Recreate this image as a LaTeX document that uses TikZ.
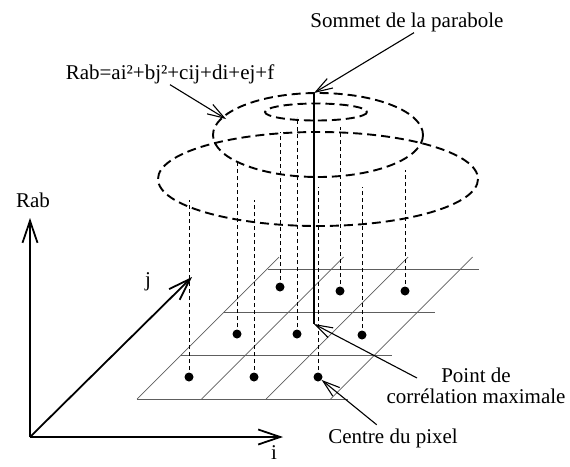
\documentclass[tikz,border=0pt]{standalone}
\usepackage{fontspec}
\setmainfont{Liberation Serif}
\usepackage{tikz}
\usetikzlibrary{positioning,arrows.meta,calc}
\definecolor{gridgray}{HTML}{5E5E5E}
\tikzset{
  lbl/.style={font=\fontsize{21}{21}\selectfont,inner sep=1pt,align=center},
  ax/.style={-{Straight Barb[length=22pt,width=15pt]},line width=1.8pt},
  fl/.style={-{Straight Barb[length=17pt,width=11pt]},line width=1.1pt},
  surf/.style={line width=1.9pt,dash pattern=on 9pt off 5pt},
  proj/.style={line width=0.6pt,dash pattern=on 4pt off 3pt},
  grd/.style={line width=0.7pt,draw=gridgray},
  dot/.style={circle,fill=black,inner sep=0pt,minimum size=9pt},
}
\begin{document}
\begin{tikzpicture}[x=1pt,y=-1pt]
  \useasboundingbox (0,0) rectangle (570,466);
  \draw[surf] (318,179) ellipse [x radius=160,y radius=47];
  \draw[surf] (318,135) ellipse [x radius=105,y radius=42];
  \draw[surf] (316,112) ellipse [x radius=51,y radius=8.5];
  \foreach \k in {0,1,2,3}{
    \draw[grd] (137+43.5*\k,399-43.3*\k) -- ++(211,0);
    \draw[grd] (137+64.5*\k,399) -- ++(142,-142);
  }
  \foreach \n/\x/\y/\t in {11/189/377/200,12/254/377/200,13/318/377/187,
      21/237/334/163,22/297/334/117,23/362/335/187,
      31/280/287/132,32/340/291/127,33/405/291/170}{
    \node[dot] (d\n) at (\x,\y) {};
    \coordinate (t\n) at (\x,\t);
    \draw[proj] (d\n.center) -- (t\n);
  }
  \coordinate (top) at (314,93);
  \coordinate (pmax) at (314,324);
  \draw[line width=1.9pt] (top) -- (pmax);
  \coordinate (O) at (30,437);
  \coordinate (Rtip) at (30,218);
  \coordinate (itip) at (283,437);
  \coordinate (jtip) at (192,277);
  \draw[ax] (O) -- (Rtip);
  \draw[ax] (O) -- (itip);
  \draw[ax] (O) -- (jtip);
  \node[lbl] (Rab) at (33,200) {Rab};
  \node[lbl] (ilab) at (274,453) {i};
  \node[lbl] (jlab) at (148,282) {j};
  \node[lbl,anchor=base] (sommet) at (407,27) {Sommet de la parabole};
  \node[lbl,anchor=base] (eq) at (170,79) {Rab=ai²+bj²+cij+di+ej+f};
  \node[lbl] (pt) at (476,386) {Point de\\corrélation maximale};
  \node[lbl] (cp) at (393,438) {Centre du pixel};
  \coordinate (e2) at (226,119);
  \coordinate (ptarr) at (417,378);
  \draw[fl] ([xshift=7pt]sommet.south) -- (top);
  \draw[fl] (eq.south) -- (e2);
  \draw[fl] (ptarr) -- (pmax);
  \draw[fl,shorten <=4pt] (cp) -- (d13);
\end{tikzpicture}
\end{document}
